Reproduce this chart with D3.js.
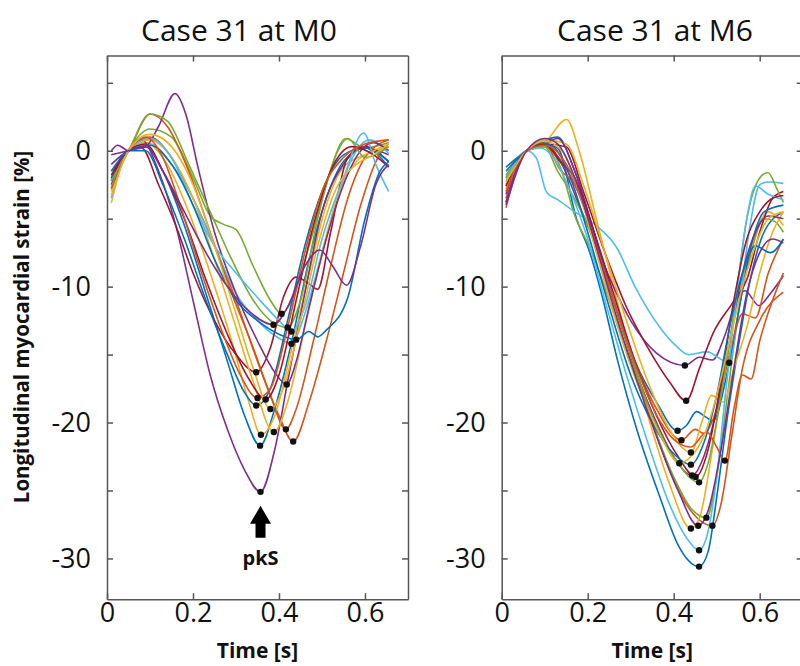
<!DOCTYPE html>
<html>
<head>
<meta charset="utf-8">
<script src="https://cdn.jsdelivr.net/npm/d3@7/dist/d3.min.js"></script>
<style>
  body { margin: 0; background: #fff; }
  text { font-family: "Open Sans", "Noto Sans", sans-serif; }
</style>
</head>
<body>
<svg id="chart" width="800" height="666"></svg>
<script>
// matlab default line colours, cycled per segment
var colors = ["#0072BD", "#D95319", "#EDB120", "#7E2F8E", "#77AC30", "#4DBEEE", "#A2142F"];
var titles = ["Case 31 at M0", "Case 31 at M6"];
var xTicks = [0, 0.2, 0.4, 0.6];
var yTicks = [-30, -25, -20, -15, -10, -5, 0, 5];
var yLabelTicks = [-30, -20, -10, 0];

// [time s, strain %] per segment, M0
var m0Curves = [
  [[0.01,-2.5],[0.05,0],[0.09,0.3],[0.13,-1.5],[0.18,-5.5],[0.23,-10.5],[0.28,-15.5],[0.32,-19.5],[0.356,-21.7],[0.39,-19],[0.43,-14],[0.47,-8],[0.51,-3.5],[0.55,-0.8],[0.6,0.2],[0.655,-1.2]],
  [[0.01,-2],[0.05,0],[0.1,1.0],[0.15,-0.5],[0.2,-3.5],[0.25,-7],[0.3,-11],[0.35,-15.5],[0.4,-19.5],[0.433,-21.4],[0.47,-18.5],[0.51,-14],[0.55,-9],[0.59,-4],[0.63,-0.5],[0.655,0.5]],
  [[0.01,-3.85],[0.05,0],[0.09,0.6],[0.14,-1],[0.19,-4.5],[0.24,-9],[0.29,-14],[0.33,-18.5],[0.358,-20.9],[0.39,-19.5],[0.43,-14.5],[0.47,-9],[0.51,-4],[0.55,-1.2],[0.6,-0.3],[0.655,0.3]],
  [[0.01,0],[0.025,0.4],[0.05,0],[0.08,0.8],[0.12,-1.5],[0.16,-5.5],[0.2,-11],[0.24,-16.5],[0.28,-20.5],[0.32,-23.5],[0.357,-25.1],[0.39,-22],[0.42,-17],[0.46,-10.5],[0.5,-4.5],[0.55,-1],[0.6,0.2],[0.655,-0.3]],
  [[0.01,-2.8],[0.05,0],[0.1,1.6],[0.15,1.0],[0.2,-2],[0.24,-4.8],[0.27,-5.4],[0.3,-5.8],[0.34,-8.5],[0.38,-11],[0.406,-12.0],[0.43,-11],[0.47,-7],[0.51,-2.5],[0.555,0.9],[0.6,0.2],[0.655,0.6]],
  [[0.01,-3.5],[0.05,0],[0.1,0.5],[0.15,-1],[0.2,-3.5],[0.25,-7],[0.3,-10.5],[0.35,-12.5],[0.4,-13.8],[0.429,-14.2],[0.46,-12],[0.5,-7.5],[0.54,-3],[0.58,0],[0.61,0.8],[0.655,-0.2]],
  [[0.01,-2.2],[0.05,0],[0.08,0.2],[0.12,-2.5],[0.16,-5.5],[0.2,-9],[0.25,-12.5],[0.3,-15],[0.347,-16.3],[0.38,-14.5],[0.41,-10.8],[0.44,-9.3],[0.47,-9.8],[0.49,-10.2],[0.52,-6],[0.56,-0.5],[0.6,0.3],[0.655,-0.8]],
  [[0.01,-2],[0.05,0],[0.09,0],[0.13,-2.5],[0.18,-6.5],[0.23,-11],[0.28,-15],[0.32,-17.8],[0.347,-18.75],[0.38,-17.5],[0.42,-12.5],[0.46,-7],[0.5,-3],[0.55,-0.3],[0.6,0.2],[0.655,-0.8]],
  [[0.01,-1.5],[0.05,0],[0.1,2.7],[0.14,1.8],[0.19,-1.5],[0.24,-6],[0.29,-10.5],[0.34,-14.5],[0.38,-18],[0.416,-20.5],[0.44,-19],[0.48,-14],[0.52,-8.5],[0.56,-3.5],[0.6,-0.5],[0.655,0.8]],
  [[0.01,-3],[0.05,0],[0.1,0.8],[0.15,-0.5],[0.2,-3.5],[0.25,-8],[0.3,-13],[0.34,-17],[0.388,-20.7],[0.42,-18.5],[0.46,-13],[0.5,-7.5],[0.54,-3],[0.58,-0.8],[0.62,0],[0.655,0.5]],
  [[0.01,-1],[0.05,0],[0.09,0.3],[0.12,1.8],[0.158,4.2],[0.185,2.5],[0.21,-1],[0.25,-6],[0.3,-10.5],[0.35,-14],[0.39,-16.3],[0.418,-17.2],[0.44,-15.5],[0.47,-11.5],[0.51,-6.5],[0.55,-2.5],[0.59,0],[0.62,0.6],[0.655,0]],
  [[0.01,-2.2],[0.05,0],[0.1,2.7],[0.14,2.2],[0.19,-1],[0.24,-4.5],[0.29,-8],[0.34,-11],[0.38,-12.5],[0.42,-13.0],[0.45,-11],[0.49,-5],[0.53,-0.5],[0.56,0.9],[0.6,-0.5],[0.655,0.3]],
  [[0.01,-2.7],[0.05,0],[0.1,0.9],[0.15,-0.5],[0.2,-4],[0.25,-7],[0.3,-9],[0.35,-10.8],[0.4,-12.5],[0.429,-13.3],[0.46,-11.5],[0.5,-6.5],[0.55,-2],[0.597,1.3],[0.625,-1],[0.655,-3]],
  [[0.01,-1.8],[0.05,0],[0.09,0.5],[0.13,-1.5],[0.18,-5],[0.23,-9.5],[0.28,-13.5],[0.33,-16.8],[0.369,-18.3],[0.4,-16.5],[0.44,-11],[0.48,-5.5],[0.52,-1.5],[0.57,0.3],[0.62,-0.3],[0.655,-1.2]],
  [[0.01,-1.5],[0.05,0],[0.1,0.4],[0.15,-1],[0.2,-4],[0.25,-8],[0.3,-11],[0.35,-12.5],[0.4,-13.5],[0.44,-13.9],[0.47,-13.3],[0.49,-13.7],[0.51,-13.2],[0.56,-10.8],[0.6,-5],[0.635,-1.5],[0.655,-0.8]],
  [[0.01,-2.8],[0.05,0],[0.09,1],[0.13,-0.5],[0.17,-4],[0.22,-9],[0.27,-13.5],[0.31,-16.5],[0.35,-18.2],[0.38,-17.5],[0.42,-13],[0.46,-7.5],[0.5,-3],[0.55,-0.5],[0.6,0.5],[0.655,0.8]],
  [[0.01,-3.3],[0.05,0],[0.1,1.2],[0.15,0.3],[0.2,-2.5],[0.25,-7],[0.3,-12],[0.34,-16],[0.38,-19.0],[0.41,-17.5],[0.45,-12.5],[0.49,-7],[0.53,-3],[0.58,-1],[0.62,-0.3],[0.655,0.5]],
  [[0.01,-0.3],[0.05,0],[0.09,0.3],[0.13,-1.5],[0.18,-4.5],[0.23,-7.5],[0.28,-10],[0.33,-11.8],[0.387,-12.8],[0.42,-11.5],[0.46,-8.5],[0.495,-7.3],[0.525,-8.5],[0.557,-9.9],[0.59,-7],[0.625,-2.5],[0.655,-1]]
];

// [time s, strain %] per segment, M6
var m6Curves = [
  [[0.01,-2],[0.058,0],[0.09,0.5],[0.13,0.2],[0.174,-5],[0.205,-7.5],[0.232,-10.5],[0.27,-15.5],[0.314,-20.5],[0.368,-25.5],[0.41,-29],[0.459,-30.6],[0.48,-29.5],[0.5,-25.5],[0.523,-20],[0.55,-14.5],[0.578,-9.5],[0.61,-6],[0.655,-4.5]],
  [[0.01,-4.2],[0.058,0],[0.1,0.3],[0.14,-0.8],[0.19,-4],[0.24,-9],[0.29,-14],[0.34,-19],[0.39,-23.5],[0.44,-26.5],[0.49,-27.6],[0.51,-26],[0.535,-21],[0.56,-16],[0.6,-12.5],[0.655,-10.4]],
  [[0.01,-3],[0.058,0],[0.1,0.6],[0.151,2.3],[0.18,0],[0.22,-5],[0.26,-10],[0.3,-15],[0.34,-19.5],[0.39,-24.5],[0.44,-27.8],[0.46,-27],[0.49,-22],[0.52,-16],[0.55,-11],[0.59,-6],[0.62,-4.5],[0.655,-5.5]],
  [[0.01,-3.2],[0.058,0],[0.1,0.5],[0.14,-1],[0.18,-4],[0.22,-7],[0.26,-10],[0.3,-12.5],[0.36,-14.9],[0.426,-15.8],[0.46,-15.2],[0.49,-15.4],[0.52,-13.5],[0.546,-11],[0.566,-10.3],[0.598,-11.4],[0.625,-10.5],[0.655,-9.2]],
  [[0.01,-1.8],[0.058,0],[0.1,0.4],[0.14,-1.5],[0.167,-4.5],[0.21,-7.5],[0.25,-11],[0.3,-15.5],[0.35,-20],[0.4,-24],[0.44,-26.3],[0.476,-27.0],[0.5,-24],[0.525,-18],[0.55,-12],[0.58,-7.5],[0.61,-5],[0.635,-5.2],[0.655,-6]],
  [[0.01,-2.5],[0.058,0],[0.08,-0.5],[0.105,-3.1],[0.13,-3.6],[0.17,-4.5],[0.22,-5.5],[0.267,-7.1],[0.31,-10],[0.368,-13],[0.407,-14.4],[0.434,-15],[0.477,-14.8],[0.529,-15.6],[0.55,-12],[0.575,-6],[0.6,-2.5],[0.62,-2.3],[0.655,-2.4]],
  [[0.01,-3.8],[0.058,0],[0.1,0.5],[0.15,0.3],[0.19,-3],[0.24,-7.5],[0.29,-11.5],[0.34,-14.5],[0.39,-17],[0.429,-18.4],[0.46,-16],[0.492,-13.4],[0.539,-11.1],[0.57,-9.5],[0.6,-6],[0.63,-3.5],[0.655,-3]],
  [[0.01,-1.2],[0.058,0],[0.09,0.6],[0.13,1.0],[0.17,-1.5],[0.21,-5.5],[0.26,-11],[0.31,-15.5],[0.36,-18.5],[0.409,-20.6],[0.43,-20.2],[0.453,-19.2],[0.475,-19.6],[0.492,-19.9],[0.52,-17],[0.55,-12],[0.58,-7],[0.61,-4.5],[0.655,-4]],
  [[0.01,-3.5],[0.058,0],[0.1,0.5],[0.136,-1.4],[0.17,-2.5],[0.21,-6],[0.26,-11],[0.31,-15.5],[0.36,-19],[0.418,-21.3],[0.45,-20.5],[0.47,-20.8],[0.5,-19],[0.53,-15],[0.56,-12],[0.59,-12.3],[0.62,-9],[0.655,-6.5]],
  [[0.01,-2.8],[0.058,0],[0.1,0.8],[0.15,0.5],[0.19,-2.5],[0.24,-7.5],[0.29,-12.5],[0.34,-17],[0.39,-20.5],[0.44,-22.2],[0.465,-20],[0.488,-18.0],[0.516,-18.5],[0.54,-16],[0.57,-13],[0.6,-9],[0.63,-6],[0.655,-4.5]],
  [[0.01,-3.8],[0.058,0],[0.09,0.3],[0.13,0.9],[0.17,-1.5],[0.21,-5.5],[0.26,-11],[0.31,-16],[0.36,-20],[0.4,-22.5],[0.443,-23.9],[0.47,-22.5],[0.5,-19],[0.53,-14],[0.56,-9],[0.59,-6],[0.62,-4.8],[0.655,-5]],
  [[0.01,-2],[0.058,0],[0.1,0.3],[0.13,-1.5],[0.16,-3],[0.2,-5.5],[0.25,-10],[0.3,-15],[0.35,-19.5],[0.41,-23],[0.459,-24.4],[0.48,-23],[0.51,-18],[0.54,-12],[0.57,-5],[0.6,-2],[0.619,-1.6],[0.64,-2.8],[0.655,-3.8]],
  [[0.01,-2.2],[0.058,0],[0.09,0.2],[0.12,-0.5],[0.16,-3],[0.2,-6.5],[0.24,-11],[0.29,-16.5],[0.34,-21.5],[0.39,-26],[0.43,-28.5],[0.459,-29.4],[0.48,-28],[0.5,-24],[0.52,-18],[0.545,-11],[0.57,-5],[0.59,-2.6],[0.62,-3.2],[0.655,-3.6]],
  [[0.01,-2.6],[0.058,0],[0.1,0.5],[0.136,-0.8],[0.17,-2],[0.21,-5.5],[0.26,-10.5],[0.31,-15.5],[0.36,-19.5],[0.41,-22.5],[0.451,-24.0],[0.48,-22],[0.51,-17],[0.54,-11],[0.57,-6.5],[0.6,-4.5],[0.63,-3.5],[0.655,-3.3]],
  [[0.01,-1.5],[0.058,0],[0.09,0.6],[0.12,0.3],[0.16,-2],[0.2,-6],[0.25,-11.5],[0.3,-16.5],[0.35,-20],[0.4,-22.3],[0.44,-23.1],[0.47,-21.5],[0.5,-18],[0.53,-13],[0.56,-9],[0.59,-7],[0.625,-7.5],[0.655,-6.5]],
  [[0.01,-3],[0.058,0],[0.1,0.4],[0.14,-0.5],[0.18,-3],[0.22,-7],[0.27,-12],[0.32,-16.5],[0.37,-20],[0.41,-21.5],[0.44,-21.8],[0.477,-20.7],[0.5,-21.8],[0.519,-22.8],[0.54,-19],[0.56,-16.5],[0.58,-16.8],[0.6,-14],[0.63,-11],[0.655,-9]],
  [[0.01,-2.3],[0.058,0],[0.1,0.7],[0.14,0],[0.18,-3],[0.22,-7.5],[0.27,-13],[0.32,-17.5],[0.37,-21],[0.413,-23.0],[0.44,-22.5],[0.47,-21],[0.5,-18],[0.53,-14],[0.56,-10],[0.59,-7],[0.62,-5],[0.655,-4.5]],
  [[0.01,-4],[0.058,0],[0.1,0.9],[0.13,0.5],[0.17,-2],[0.21,-6],[0.26,-11.5],[0.31,-16.5],[0.36,-21],[0.41,-25],[0.457,-27.6],[0.48,-26.5],[0.51,-22],[0.54,-16],[0.57,-10.5],[0.6,-7.5],[0.63,-6.5],[0.655,-6.8]]
];

var svg = d3.select("#chart");
var plotTop = 55.6, plotBottom = 599.2, plotW = 301;
var axisColor = "#555";

function drawPanel(curves, left, title, titleX, showPk) {
    var x = d3.scaleLinear().domain([0, 0.7]).range([left, left + plotW]);
    var y = d3.scaleLinear().domain([-33, 7]).range([plotBottom, plotTop]);
    var g = svg.append("g");

    var line = d3.line()
        .x(function(d) { return x(d[0]); })
        .y(function(d) { return y(d[1]); })
        .curve(d3.curveMonotoneX);

    g.selectAll(".seg")
        .data(curves)
        .enter().append("path")
        .attr("class", "seg")
        .attr("d", line)
        .attr("fill", "none")
        .attr("stroke", function(d, i) { return colors[i % colors.length]; })
        .attr("stroke-width", 1.6);

    // peak systolic strain = minimum of each segment
    var peaks = curves.map(function(c) { return d3.least(c, function(d) { return d[1]; }); });
    g.selectAll(".pk")
        .data(peaks)
        .enter().append("circle")
        .attr("class", "pk")
        .attr("cx", function(d) { return x(d[0]); })
        .attr("cy", function(d) { return y(d[1]); })
        .attr("r", 3.2)
        .attr("fill", "#111");

    var fmt = function(d) { return String(d); };
    var xb = g.append("g").attr("transform", "translate(0," + plotBottom + ")")
        .call(d3.axisBottom(x).tickValues(xTicks).tickSize(-6).tickSizeOuter(0).tickPadding(4).tickFormat(fmt));
    var xt = g.append("g").attr("transform", "translate(0," + plotTop + ")")
        .call(d3.axisTop(x).tickValues(xTicks).tickSize(-6).tickSizeOuter(0).tickFormat(""));
    var yl = g.append("g").attr("transform", "translate(" + left + ",0)")
        .call(d3.axisLeft(y).tickValues(yTicks).tickSize(-6).tickSizeOuter(0).tickPadding(16)
            .tickFormat(function(d) { return yLabelTicks.indexOf(d) >= 0 ? String(d) : ""; }));
    var yr = g.append("g").attr("transform", "translate(" + (left + plotW) + ",0)")
        .call(d3.axisRight(y).tickValues(yTicks).tickSize(-6).tickSizeOuter(0).tickFormat(""));

    [xb, xt, yl, yr].forEach(function(a) {
        a.selectAll("path, line").attr("stroke", axisColor).attr("stroke-width", 1.5);
        a.selectAll("text")
            .style("font-family", "'Open Sans', sans-serif")
            .style("font-size", "27px")
            .attr("fill", "#111");
    });

    g.append("text")
        .attr("x", titleX).attr("y", 41)
        .attr("text-anchor", "middle")
        .style("font-size", "30px")
        .attr("fill", "#111")
        .text(title);

    g.append("text")
        .attr("x", left + plotW / 2).attr("y", 658)
        .attr("text-anchor", "middle")
        .style("font-size", "21px").style("font-weight", "bold")
        .attr("fill", "#111")
        .text("Time [s]");

    if (showPk) {
        var pk = d3.least(peaks, function(d) { return d[1]; });
        var cx = x(pk[0]), cy = y(pk[1]);
        var arrow = [[cx, cy + 14], [cx + 10.5, cy + 32], [cx + 5, cy + 32], [cx + 5, cy + 46],
                     [cx - 5, cy + 46], [cx - 5, cy + 32], [cx - 10.5, cy + 32]];
        g.append("path")
            .attr("d", d3.line()(arrow) + "Z")
            .attr("fill", "#000");
        g.append("text")
            .attr("x", cx).attr("y", cy + 73)
            .attr("text-anchor", "middle")
            .style("font-size", "20px").style("font-weight", "bold")
            .attr("fill", "#111")
            .text("pkS");
    }
}

drawPanel(m0Curves, 107, titles[0], 239, true);
drawPanel(m6Curves, 501.7, titles[1], 655, false);

svg.append("text")
    .attr("transform", "translate(29,327) rotate(-90)")
    .attr("text-anchor", "middle")
    .style("font-size", "20.5px").style("font-weight", "bold")
    .attr("fill", "#111")
    .text("Longitudinal myocardial strain [%]");
</script>
</body>
</html>
